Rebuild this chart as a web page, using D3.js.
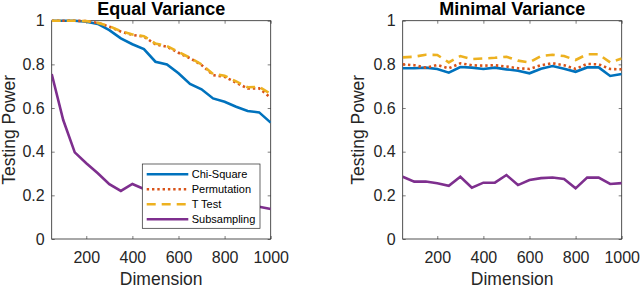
<!DOCTYPE html>
<html>
<head>
<meta charset="utf-8">
<script src="https://cdn.jsdelivr.net/npm/d3@7"></script>
<style>
  body { margin: 0; background: #fff; }
  svg { display: block; font-family: 'Liberation Sans', Arial, sans-serif; }
</style>
</head>
<body>
<svg id="chart" width="640" height="288"></svg>
<script>
// dimensions on the x axis
const dims = [50, 100, 150, 200, 250, 300, 350, 400, 450, 500,
  550, 600, 650, 700, 750, 800, 850, 900, 950, 1000];

// left panel: equal variance
const equalChi = [1, 1, 1, 0.995, 0.985, 0.957, 0.919, 0.892, 0.870, 0.812,
  0.800, 0.759, 0.710, 0.686, 0.644, 0.629, 0.606, 0.586, 0.580, 0.533];
const equalPerm = [1, 1, 1, 0.998, 0.99, 0.973, 0.950, 0.935, 0.927, 0.892,
  0.881, 0.853, 0.828, 0.797, 0.751, 0.743, 0.716, 0.690, 0.690, 0.647];
const equalT = [1, 1, 1, 0.998, 0.99, 0.975, 0.952, 0.937, 0.929, 0.895,
  0.884, 0.857, 0.830, 0.800, 0.756, 0.748, 0.722, 0.695, 0.697, 0.665];
const equalSub = [0.756, 0.545, 0.397, 0.347, 0.301, 0.251, 0.220, 0.252, 0.229, 0.215,
  0.208, 0.200, 0.196, 0.188, 0.182, 0.176, 0.170, 0.158, 0.148, 0.137];

// right panel: minimal variance
const minChi = [0.782, 0.782, 0.785, 0.779, 0.762, 0.788, 0.785, 0.779, 0.785, 0.777,
  0.771, 0.759, 0.780, 0.792, 0.780, 0.766, 0.786, 0.786, 0.747, 0.756];
const minPerm = [0.800, 0.796, 0.785, 0.797, 0.782, 0.805, 0.796, 0.794, 0.796, 0.790,
  0.782, 0.779, 0.796, 0.805, 0.796, 0.779, 0.802, 0.800, 0.779, 0.777];
const minT = [0.832, 0.835, 0.844, 0.843, 0.809, 0.838, 0.824, 0.827, 0.830, 0.835,
  0.817, 0.809, 0.838, 0.844, 0.838, 0.820, 0.846, 0.846, 0.809, 0.827];
const minSub = [0.285, 0.263, 0.263, 0.255, 0.244, 0.285, 0.235, 0.258, 0.258, 0.293,
  0.247, 0.270, 0.279, 0.282, 0.275, 0.232, 0.282, 0.281, 0.252, 0.256];

const seriesNames = ['Chi-Square', 'Permutation', 'T Test', 'Subsampling'];
const xTicks = [200, 400, 600, 800, 1000];
const yTicks = [0, 0.2, 0.4, 0.6, 0.8, 1];

// line styles, same order as seriesNames
const colors = ['#0072BD', '#D95319', '#EDB120', '#7E2F8E'];
const dashes = [null, '2.4 2.9', '9 6', null];

const panels = [
  { title: 'Equal Variance', left: 51.7, labelX: 15, values: [equalChi, equalPerm, equalT, equalSub], legend: true },
  { title: 'Minimal Variance', left: 402.7, labelX: 364, values: [minChi, minPerm, minT, minSub], legend: false },
];

const plotW = 219;
const plotTop = 20.7;
const plotBottom = 239;
const axisColor = '#262626';

const svg = d3.select('#chart');

panels.forEach((p, pi) => {
  const x = d3.scaleLinear().domain([50, 1000]).range([p.left, p.left + plotW]);
  const y = d3.scaleLinear().domain([0, 1]).range([plotBottom, plotTop]);

  const g = svg.append('g');

  // clip so lines stay inside the box
  svg.append('clipPath').attr('id', 'clip' + pi)
    .append('rect')
    .attr('x', p.left).attr('y', plotTop - 2)
    .attr('width', plotW).attr('height', plotBottom - plotTop + 2);

  const line = d3.line()
    .x((d, i) => x(dims[i]))
    .y((d) => y(d));

  // axes with ticks pointing inward, like matlab
  const axB = g.append('g').attr('transform', `translate(0,${plotBottom})`)
    .call(d3.axisBottom(x).tickValues(xTicks).tickSizeInner(-3).tickSizeOuter(0).tickPadding(13)
      .tickFormat(d3.format('d')));
  const axT = g.append('g').attr('transform', `translate(0,${plotTop})`)
    .call(d3.axisTop(x).tickValues(xTicks).tickSizeInner(-3).tickSizeOuter(0).tickFormat(''));
  const axL = g.append('g').attr('transform', `translate(${p.left},0)`)
    .call(d3.axisLeft(y).tickValues(yTicks).tickSizeInner(-3).tickSizeOuter(0).tickPadding(7)
      .tickFormat((d) => d3.format('~g')(d)));
  const axR = g.append('g').attr('transform', `translate(${p.left + plotW},0)`)
    .call(d3.axisRight(y).tickValues(yTicks).tickSizeInner(-3).tickSizeOuter(0).tickFormat(''));

  [axB, axT, axL, axR].forEach((a) => {
    a.select('.domain').remove();
    a.selectAll('line').attr('stroke', axisColor).attr('stroke-width', 0.6);
    a.selectAll('text').attr('fill', axisColor).style('font-size', '16px');
  });

  // the box
  g.append('rect')
    .attr('x', p.left).attr('y', plotTop)
    .attr('width', plotW).attr('height', plotBottom - plotTop)
    .attr('fill', 'none').attr('stroke', axisColor).attr('stroke-width', 0.8);

  // data lines
  g.append('g').attr('clip-path', `url(#clip${pi})`)
    .selectAll('path')
    .data(p.values)
    .join('path')
    .attr('d', line)
    .attr('fill', 'none')
    .attr('stroke', (d, i) => colors[i])
    .attr('stroke-width', 2.6)
    .attr('stroke-dasharray', (d, i) => dashes[i]);

  // title
  g.append('text')
    .attr('x', p.left + plotW / 2).attr('y', 14.5)
    .attr('text-anchor', 'middle')
    .style('font-size', '18px').style('font-weight', 'bold')
    .text(p.title);

  // axis labels
  g.append('text')
    .attr('x', p.left + plotW / 2).attr('y', 285)
    .attr('text-anchor', 'middle').attr('fill', axisColor)
    .style('font-size', '17.5px')
    .text('Dimension');

  g.append('text')
    .attr('transform', `translate(${p.labelX},${(plotTop + plotBottom) / 2}) rotate(-90)`)
    .attr('text-anchor', 'middle').attr('fill', axisColor)
    .style('font-size', '17.5px')
    .text('Testing Power');

  if (p.legend) {
    const lx = 142.3;
    const ly = 164;
    const leg = g.append('g');
    leg.append('rect')
      .attr('x', lx).attr('y', ly).attr('width', 117.7).attr('height', 64.3)
      .attr('fill', '#fff').attr('stroke', axisColor).attr('stroke-width', 0.7);

    const rows = leg.selectAll('g.row').data(seriesNames).join('g')
      .attr('class', 'row')
      .attr('transform', (d, i) => `translate(0,${ly + 10.3 + i * 15})`);

    rows.append('line')
      .attr('x1', lx + 4.4).attr('x2', lx + 46)
      .attr('stroke', (d, i) => colors[i])
      .attr('stroke-width', 2.6)
      .attr('stroke-dasharray', (d, i) => dashes[i]);

    rows.append('text')
      .attr('x', lx + 49.4).attr('dy', '0.35em')
      .style('font-size', '11px').attr('fill', '#000')
      .text((d) => d);
  }
});
</script>
</body>
</html>
